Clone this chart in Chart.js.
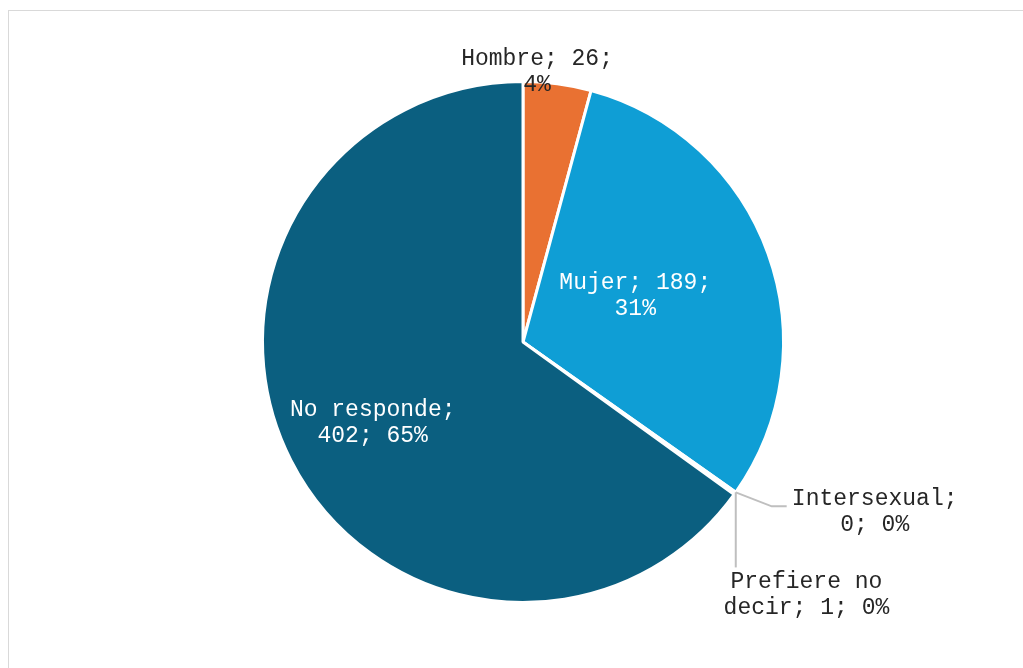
<!DOCTYPE html>
<html>
<head>
<meta charset="utf-8">
<script src="https://cdn.jsdelivr.net/npm/chart.js@4/dist/chart.umd.min.js"></script>
<style>
  html, body { margin: 0; padding: 0; background: #fff; }
  #wrap { width: 1023px; height: 668px; }
</style>
</head>
<body>
<div id="wrap"><canvas id="pie-chart"></canvas></div>
<script>
const categories = ["Hombre", "Mujer", "Intersexual", "Prefiere no decir", "No responde"];
const values = [26, 189, 0, 1, 402];
const colors = ["#E97132", "#0F9ED5", "#A5A5A5", "#A5A5A5", "#0B5F80"];
// how each data label is broken into lines (text only)
const labelBreaks = [
    ["Hombre; 26;", "4%"],
    ["Mujer; 189;", "31%"],
    ["Intersexual;", "0; 0%"],
    ["Prefiere no", "decir; 1; 0%"],
    ["No responde;", "402; 65%"]
];

// label block centres, as fractions of the radius from the pie centre
const labelPos = [
    {fx: 0.054, fy: -1.035, color: "#262626"},
    {fx: 0.431, fy: -0.177, color: "#ffffff"},
    {fx: 1.350, fy: 0.654, color: "#262626", leader: "elbow"},
    {fx: 1.088, fy: 0.969, color: "#262626", leader: "down"},
    {fx: -0.577, fy: 0.312, color: "#ffffff"}
];

const frame = {
    id: "frame",
    beforeDraw(chart) {
        const c = chart.ctx;
        c.save();
        c.strokeStyle = "#d9d9d9";
        c.lineWidth = 1;
        c.strokeRect(8.5, 10.5, 1100, 800);
        c.restore();
    }
};

const pieLabels = {
    id: "pieLabels",
    afterDatasetsDraw(chart) {
        const c = chart.ctx;
        const arcs = chart.getDatasetMeta(0).data;
        c.save();
        c.font = "23px 'Liberation Mono', 'Courier New', monospace";
        c.textAlign = "center";
        c.textBaseline = "middle";
        arcs.forEach((arc, i) => {
            const p = labelPos[i];
            const r = arc.outerRadius;
            const cx = arc.x + p.fx * r;
            const cy = arc.y + p.fy * r;
            if (p.leader) {
                const sx = arc.x + Math.cos(arc.startAngle) * r;
                const sy = arc.y + Math.sin(arc.startAngle) * r;
                c.strokeStyle = "#bfbfbf";
                c.lineWidth = 2;
                c.beginPath();
                c.moveTo(sx, sy);
                if (p.leader === "elbow") {
                    c.lineTo(sx + 36, sy + 14);
                    c.lineTo(cx - 88, sy + 14);
                } else {
                    c.lineTo(sx, cy - 27);
                }
                c.stroke();
            }
            c.fillStyle = p.color;
            const lines = labelBreaks[i];
            lines.forEach((t, k) => {
                c.fillText(t, cx, cy + (k - (lines.length - 1) / 2) * 26);
            });
        });
        c.restore();
    }
};

new Chart(document.getElementById("pie-chart"), {
    type: "pie",
    data: {
        labels: categories,
        datasets: [{
            data: values,
            backgroundColor: colors,
            borderColor: "#ffffff",
            borderWidth: 3
        }]
    },
    options: {
        responsive: true,
        maintainAspectRatio: false,
        animation: false,
        layout: { padding: { top: 80, bottom: 64, left: 261, right: 238 } },
        plugins: {
            legend: { display: false },
            tooltip: { enabled: false }
        }
    },
    plugins: [frame, pieLabels]
});
</script>
</body>
</html>
